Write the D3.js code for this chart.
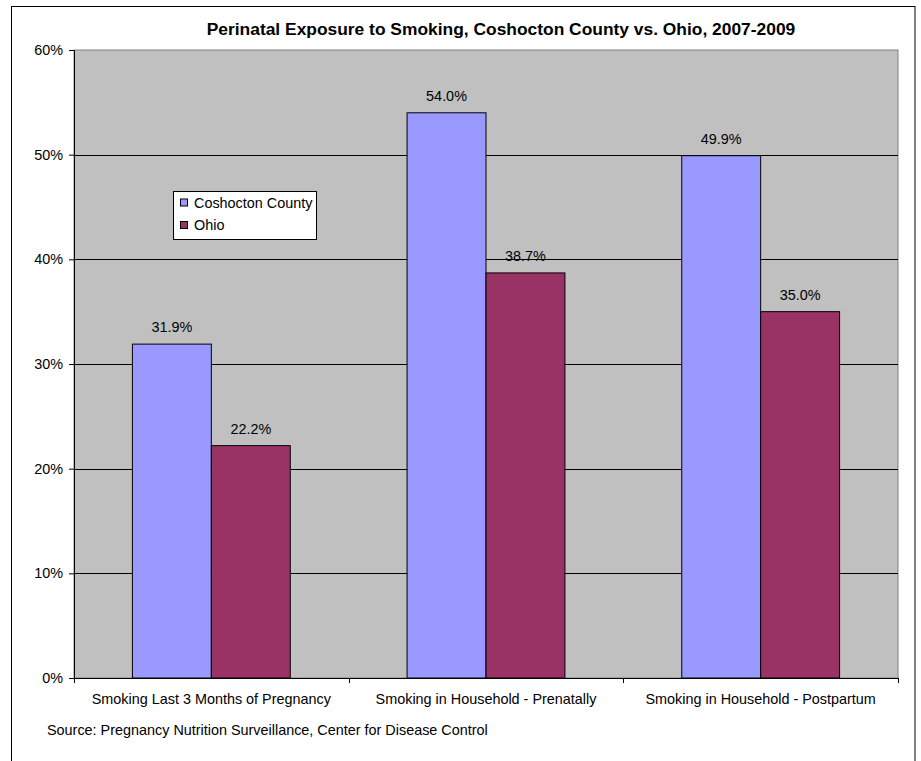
<!DOCTYPE html>
<html>
<head>
<meta charset="utf-8">
<script src="https://cdn.jsdelivr.net/npm/d3@7"></script>
<style>
  html, body { margin: 0; padding: 0; background: #fff; }
  svg { display: block; font-family: "Liberation Sans", Arial, sans-serif; }
</style>
</head>
<body>
<svg id="chart" width="921" height="761"></svg>
<script>
const title = "Perinatal Exposure to Smoking, Coshocton County vs. Ohio, 2007-2009";
const categories = ["Smoking Last 3 Months of Pregnancy", "Smoking in Household - Prenatally", "Smoking in Household - Postpartum"];
const seriesNames = ["Coshocton County", "Ohio"];
const coshoctonValues = [0.319, 0.540, 0.499];
const ohioValues = [0.222, 0.387, 0.350];
const yTicks = [0, 0.1, 0.2, 0.3, 0.4, 0.5, 0.6];
const seriesColors = ["#9999FF", "#993366"];
const sourceNote = "Source: Pregnancy Nutrition Surveillance, Center for Disease Control";

const seriesValues = [coshoctonValues, ohioValues];
const svg = d3.select("#chart");

// outer frame
svg.append("rect").attr("x", 11.5).attr("y", 6.5).attr("width", 903.5).attr("height", 780)
  .attr("fill", "#fff").attr("stroke", "#000").attr("stroke-width", 1);

const plot = { left: 74, right: 898, top: 50, bottom: 678 };

const x0 = d3.scaleBand().domain(categories).range([plot.left, plot.right]).padding(0);
const x1 = d3.scaleBand().domain(seriesNames).range([0, x0.bandwidth()]).paddingInner(0).paddingOuter(0.74);
const y = d3.scaleLinear().domain([0, 0.6]).range([plot.bottom, plot.top]);

// plot background
svg.append("rect").attr("x", plot.left).attr("y", plot.top)
  .attr("width", plot.right - plot.left).attr("height", plot.bottom - plot.top)
  .attr("fill", "#C0C0C0").attr("stroke", "#808080").attr("stroke-width", 1);

// gridlines
svg.append("g").selectAll("line").data(yTicks.filter(t => t > 0 && t < 0.6)).join("line")
  .attr("x1", plot.left).attr("x2", plot.right)
  .attr("y1", d => Math.round(y(d)) + 0.5).attr("y2", d => Math.round(y(d)) + 0.5)
  .attr("stroke", "#000").attr("stroke-width", 1);

// bars
const groups = svg.append("g").selectAll("g").data(categories).join("g")
  .attr("transform", d => `translate(${x0(d)},0)`);

groups.each(function(cat, ci) {
  const g = d3.select(this);
  seriesNames.forEach((s, si) => {
    const v = seriesValues[si][ci];
    g.append("rect")
      .attr("x", x1(s)).attr("y", y(v))
      .attr("width", x1.bandwidth()).attr("height", y(0) - y(v))
      .attr("fill", seriesColors[si]).attr("stroke", "#000").attr("stroke-width", 1);
    g.append("text")
      .attr("x", x1(s) + x1.bandwidth() / 2).attr("y", y(v) - 12)
      .attr("text-anchor", "middle").attr("font-size", "14.4px").attr("fill", "#000")
      .text(d3.format(".1%")(v));
  });
});

// y axis
const yAxis = d3.axisLeft(y).tickValues(yTicks).tickFormat(d3.format(".0%")).tickSize(5).tickPadding(6);
const ya = svg.append("g").attr("transform", `translate(${plot.left},0)`).call(yAxis);
ya.select(".domain").attr("stroke", "#000");
ya.selectAll(".tick line").attr("stroke", "#000");
ya.selectAll(".tick text").attr("font-size", "14.4px").attr("fill", "#000")
  .attr("font-family", "'Liberation Sans', Arial, sans-serif");

// x axis
const xa = svg.append("g");
xa.append("line").attr("x1", plot.left).attr("x2", plot.right)
  .attr("y1", plot.bottom + 0.5).attr("y2", plot.bottom + 0.5).attr("stroke", "#000");
const boundaries = categories.map(c => x0(c)).concat([x0(categories[categories.length - 1]) + x0.bandwidth()]);
xa.selectAll("line.tk").data(boundaries).join("line").attr("class", "tk")
  .attr("x1", d => Math.round(d) + 0.5).attr("x2", d => Math.round(d) + 0.5)
  .attr("y1", plot.bottom).attr("y2", plot.bottom + 5).attr("stroke", "#000");
xa.selectAll("text").data(categories).join("text")
  .attr("x", d => x0(d) + x0.bandwidth() / 2).attr("y", 704)
  .attr("text-anchor", "middle").attr("font-size", "14.4px").attr("fill", "#000")
  .text(d => d);

// title
svg.append("text").attr("x", (plot.left + plot.right) / 2 + 15).attr("y", 35)
  .attr("text-anchor", "middle").attr("font-size", "17.4px").attr("font-weight", "bold")
  .attr("fill", "#000").text(title);

// source
svg.append("text").attr("x", 47).attr("y", 735)
  .attr("font-size", "14.4px").attr("fill", "#000").text(sourceNote);

// legend
const lg = svg.append("g");
lg.append("rect").attr("x", 173.5).attr("y", 191.5).attr("width", 143).attr("height", 48)
  .attr("fill", "#fff").attr("stroke", "#000").attr("stroke-width", 1);
seriesNames.forEach((s, i) => {
  const cy = 202.5 + i * 22.5;
  lg.append("rect").attr("x", 180.5).attr("y", cy - 3.5).attr("width", 7).attr("height", 7)
    .attr("fill", seriesColors[i]).attr("stroke", "#000").attr("stroke-width", 1);
  lg.append("text").attr("x", 194).attr("y", cy + 5).attr("font-size", "14.4px")
    .attr("fill", "#000").text(s);
});
</script>
</body>
</html>
